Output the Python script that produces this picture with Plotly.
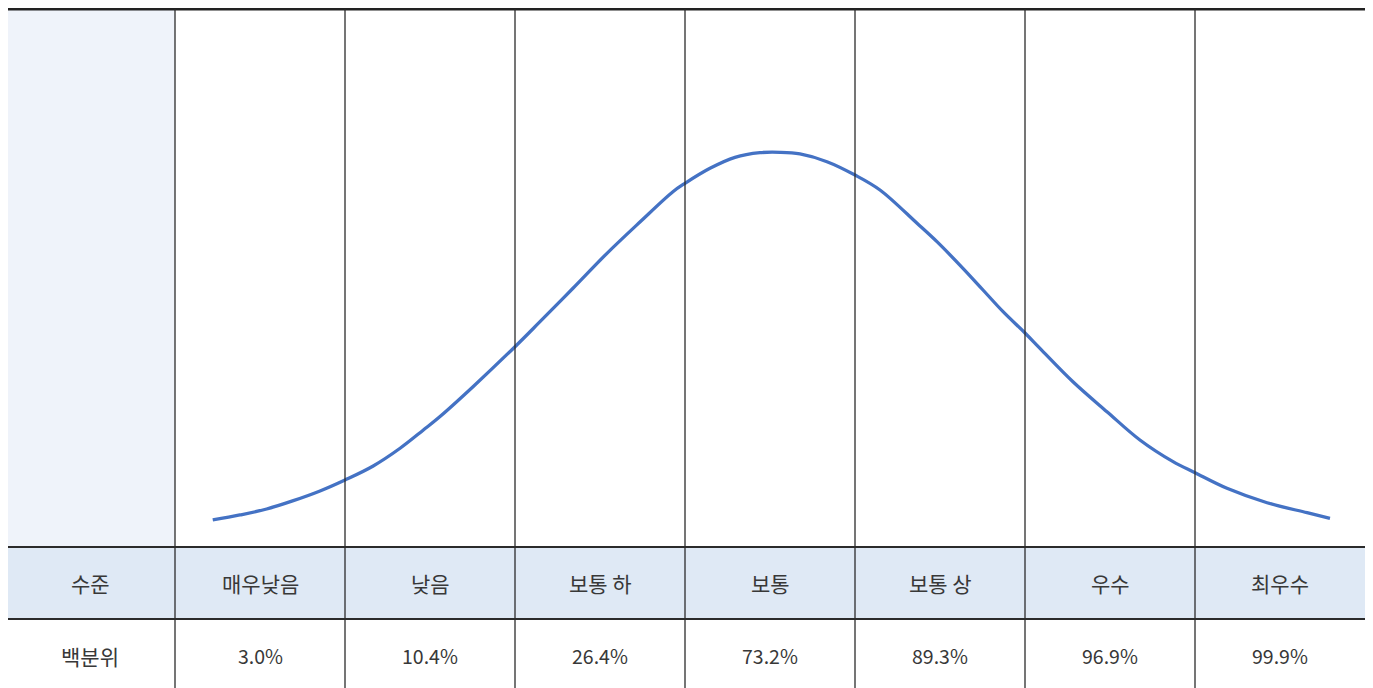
import plotly.graph_objects as go

# Data
levels = ["매우낮음", "낮음", "보통 하", "보통", "보통 상", "우수", "최우수"]
percentiles = ["3.0%", "10.4%", "26.4%", "73.2%", "89.3%", "96.9%", "99.9%"]
row_labels = ["수준", "백분위"]
curve_x = [0.222, 0.382, 0.539, 0.696, 0.853, 1.000, 1.166, 1.324, 1.461, 1.559,
           1.753, 2.000, 2.147, 2.341, 2.541, 2.735, 2.929, 3.000, 3.147, 3.294,
           3.441, 3.559, 3.676, 3.835, 4.000, 4.147, 4.365, 4.482, 4.635, 4.753,
           4.871, 5.000, 5.088, 5.282, 5.482, 5.676, 5.871, 6.000, 6.188, 6.424,
           6.659, 6.794]
curve_y = [5.02, 5.95, 7.06, 8.61, 10.41, 12.45, 15.06, 18.35, 21.75, 24.26,
           29.80, 37.23, 41.88, 48.09, 54.59, 60.41, 66.04, 67.60, 70.39, 72.43,
           73.29, 73.36, 73.05, 71.62, 69.14, 66.36, 60.17, 56.75, 51.80, 47.77,
           43.74, 39.78, 36.93, 30.72, 25.15, 19.89, 15.86, 13.81, 10.91, 8.23,
           6.38, 5.33]

# Geometry (in axis units)
X0, X1 = -1.0, 7.0
Y_TOP = 100.0
Y_ROW1 = 0.0
Y_ROW2 = -13.38
Y_BOT = -27.0
line_col = "#2b2b2b"
font_ko = dict(family="Noto Sans CJK KR, sans-serif", size=21, color="#383838")
font_num = dict(family="Noto Sans CJK KR, sans-serif", size=19.5, color="#383838")

fig = go.Figure()
fig.add_trace(go.Scatter(x=curve_x, y=curve_y, mode="lines",
                         line=dict(color="#4472C4", width=3.3, shape="spline", smoothing=1.0),
                         hoverinfo="skip", showlegend=False))

shapes = []
shapes.append(dict(type="rect", xref="x", yref="y", x0=X0, x1=0, y0=Y_ROW1, y1=Y_TOP,
                   fillcolor="#EFF3FA", line_width=0, layer="below"))
shapes.append(dict(type="rect", xref="x", yref="y", x0=X0, x1=X1, y0=Y_ROW2, y1=Y_ROW1,
                   fillcolor="#DFE9F5", line_width=0, layer="below"))
shapes.append(dict(type="line", xref="x", yref="y", x0=X0, x1=X1, y0=Y_TOP, y1=Y_TOP,
                   line=dict(color="#222222", width=3)))
for yv in (Y_ROW1, Y_ROW2):
    shapes.append(dict(type="line", xref="x", yref="y", x0=X0, x1=X1, y0=yv, y1=yv,
                       line=dict(color=line_col, width=1.8)))
for k in range(len(levels)):
    shapes.append(dict(type="line", xref="x", yref="y", x0=k, x1=k, y0=Y_BOT, y1=Y_TOP,
                       line=dict(color=line_col, width=1.3)))

annotations = []
row_y = [(547 - 582.5) / 5.38, (547 - 655.5) / 5.38]
annotations.append(dict(x=-0.5, y=row_y[0], xref="x", yref="y", text=row_labels[0],
                        showarrow=False, font=font_ko))
annotations.append(dict(x=-0.5, y=row_y[1], xref="x", yref="y", text=row_labels[1],
                        showarrow=False, font=font_ko))
for i, (lv, pc) in enumerate(zip(levels, percentiles)):
    annotations.append(dict(x=i + 0.5, y=row_y[0], xref="x", yref="y", text=lv,
                            showarrow=False, font=font_ko))
    annotations.append(dict(x=i + 0.5, y=row_y[1], xref="x", yref="y", text=pc,
                            showarrow=False, font=font_num))

# page has an 8px body margin: figure is 1365x680 placed at (8, 8)
fig.update_layout(
    width=1365, height=680,
    margin=dict(l=0, r=0, t=0, b=0),
    paper_bgcolor="white", plot_bgcolor="white",
    shapes=shapes, annotations=annotations,
    xaxis=dict(range=[(8 - 175) / 170, (1373 - 175) / 170], visible=False, fixedrange=True),
    yaxis=dict(range=[(547 - 688) / 5.38, (547 - 8) / 5.38], visible=False, fixedrange=True),
    showlegend=False,
)

fig.write_html("out.html", config={"displayModeBar": False})
